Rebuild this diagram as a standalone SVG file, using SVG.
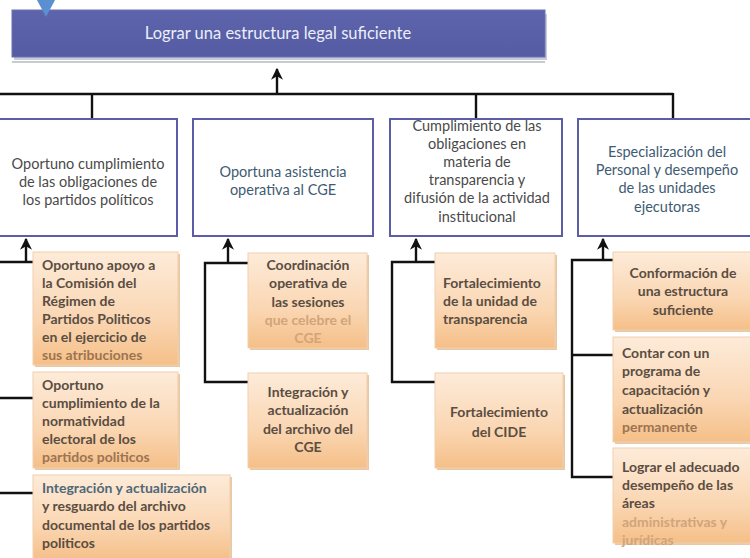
<svg xmlns="http://www.w3.org/2000/svg" width="750" height="558" viewBox="0 0 750 558">
<defs>
<linearGradient id="og" x1="0" y1="0" x2="0" y2="1">
<stop offset="0" stop-color="#fdebd9"/>
<stop offset="0.6" stop-color="#fad6b2"/>
<stop offset="1" stop-color="#f5bf88"/>
</linearGradient>
<linearGradient id="bg" x1="0" y1="0" x2="0" y2="1">
<stop offset="0" stop-color="#5d64ab"/>
<stop offset="1" stop-color="#555ca3"/>
</linearGradient>
<marker id="ah" viewBox="0 0 10 10" refX="9" refY="5" markerWidth="5" markerHeight="5" orient="auto" markerUnits="strokeWidth">
<path d="M0,0 L10,5 L0,10 L3,5 z" fill="#111"/>
</marker>
</defs>
<style>
.con{fill:none;stroke:#111;stroke-width:2.4}
.arr{fill:none;stroke:#111;stroke-width:2.4;marker-end:url(#ah)}
.col{fill:#fff;stroke:#5b5ea6;stroke-width:2}
.ob{fill:url(#og);stroke:#f1cfae;stroke-width:1}
.osh{fill:#e8c9a6}
.t{font-family:Lato,"Open Sans","Liberation Sans",sans-serif;font-size:14.5px}
.g{fill:#4a4a4a}
.b{fill:#3e5b72}
.o{font-family:Lato,"Liberation Sans",sans-serif;font-size:14px;font-weight:bold;fill:#5a4d42}
.lt{fill:#d1a47a}
.md{fill:#9c7452}
.bl{fill:#4f6878}
.c{text-anchor:middle}
</style>
<rect width="750" height="558" fill="#ffffff"/>

<g id="goal">
<rect x="14" y="14" width="533" height="46" fill="#c9ccd6"/>
<rect x="12" y="10" width="533" height="47" fill="url(#bg)" stroke="#6a70b2" stroke-width="1"/>
<line x1="12" y1="62" x2="545" y2="62" stroke="#c8cbd2" stroke-width="2"/>
<polygon points="37,0 55,0 46,17" fill="#5b8fd0"/>
<text x="278" y="39" class="t c" fill="#eceef8" style="font-size:16.5px">Lograr una estructura legal suficiente</text>
</g>

<g id="connectors">
<line class="arr" x1="277" y1="95" x2="277" y2="69"/>
<polyline class="con" points="-2,94 673,94"/>
<line class="con" x1="92" y1="94" x2="92" y2="119"/>
<line class="con" x1="476" y1="94" x2="476" y2="119"/>
<line class="con" x1="673" y1="93" x2="673" y2="119"/>
<line class="arr" x1="26" y1="263" x2="26" y2="239"/>
<polyline class="con" points="0,262 33,262"/>
<polyline class="con" points="0,398 33,398"/>
<polyline class="con" points="0,493 33,493"/>
<line class="arr" x1="228" y1="264" x2="228" y2="239"/>
<polyline class="con" points="248,263 205,263 205,382 248,382"/>
<line class="arr" x1="416" y1="263" x2="416" y2="239"/>
<polyline class="con" points="435,262 392,262 392,382 435,382"/>
<line class="arr" x1="603" y1="261" x2="603" y2="239"/>
<polyline class="con" points="613,260 572,260 572,477 613,477"/>
<line class="con" x1="572" y1="355" x2="613" y2="355"/>
</g>

<g id="col1">
<rect class="col" x="-2" y="119" width="179" height="117"/>
<text class="t g c" x="88" y="169">Oportuno cumplimiento</text>
<text class="t g c" x="88" y="187">de las obligaciones de</text>
<text class="t g c" x="88" y="205">los partidos políticos</text>
</g>
<g id="col2">
<rect class="col" x="193" y="119" width="180" height="117"/>
<text class="t b c" x="283" y="177">Oportuna asistencia</text>
<text class="t b c" x="283" y="195">operativa al CGE</text>
</g>
<g id="col3">
<rect class="col" x="390" y="119" width="172" height="117"/>
<text class="t g c" x="477" y="131">Cumplimiento de las</text>
<text class="t g c" x="477" y="149">obligaciones en</text>
<text class="t g c" x="477" y="167">materia de</text>
<text class="t g c" x="477" y="185">transparencia y</text>
<text class="t g c" x="477" y="203">difusión de la actividad</text>
<text class="t g c" x="477" y="222">institucional</text>
</g>
<g id="col4">
<rect class="col" x="578" y="119" width="175" height="117"/>
<text class="t b c" x="667" y="157">Especialización del</text>
<text class="t b c" x="667" y="175">Personal y desempeño</text>
<text class="t b c" x="667" y="193">de las unidades</text>
<text class="t b c" x="667" y="212">ejecutoras</text>
</g>

<g id="a1">
<rect class="osh" x="35" y="254" width="145" height="113"/>
<rect class="ob" x="33" y="252" width="145" height="113"/>
<text class="o" x="42" y="270">Oportuno apoyo a</text>
<text class="o" x="42" y="288">la Comisión del</text>
<text class="o" x="42" y="306">Régimen de</text>
<text class="o" x="42" y="324">Partidos Politicos</text>
<text class="o" x="42" y="342">en el ejercicio de</text>
<text class="o md" x="42" y="360">sus atribuciones</text>
</g>
<g id="a2">
<rect class="osh" x="35" y="374" width="145" height="96"/>
<rect class="ob" x="33" y="372" width="145" height="96"/>
<text class="o" x="42" y="390">Oportuno</text>
<text class="o" x="42" y="408">cumplimiento de la</text>
<text class="o" x="42" y="426">normatividad</text>
<text class="o" x="42" y="444">electoral de los</text>
<text class="o md" x="42" y="462">partidos politicos</text>
</g>
<g id="a3">
<rect class="osh" x="35" y="477" width="197" height="83"/>
<rect class="ob" x="33" y="475" width="197" height="85"/>
<text class="o bl" x="42" y="493">Integración y actualización</text>
<text class="o" x="42" y="511">y resguardo del archivo</text>
<text class="o" x="42" y="530">documental de los partidos</text>
<text class="o" x="42" y="548">politicos</text>
</g>

<g id="b1">
<rect class="osh" x="250" y="255" width="119" height="95"/>
<rect class="ob" x="248" y="253" width="119" height="95"/>
<text class="o c" x="308" y="270">Coordinación</text>
<text class="o c" x="308" y="288">operativa de</text>
<text class="o c" x="308" y="307">las sesiones</text>
<text class="o c lt" x="308" y="325">que celebre el</text>
<text class="o c lt" x="308" y="343">CGE</text>
</g>
<g id="b2">
<rect class="osh" x="250" y="375" width="119" height="95"/>
<rect class="ob" x="248" y="373" width="119" height="95"/>
<text class="o c" x="308" y="397">Integración y</text>
<text class="o c" x="308" y="415">actualización</text>
<text class="o c" x="308" y="434">del archivo del</text>
<text class="o c" x="308" y="452">CGE</text>
</g>

<g id="c1">
<rect class="osh" x="437" y="255" width="120" height="95"/>
<rect class="ob" x="435" y="253" width="120" height="95"/>
<text class="o" x="443" y="288">Fortalecimiento</text>
<text class="o" x="443" y="306">de la unidad de</text>
<text class="o" x="443" y="324">transparencia</text>
</g>
<g id="c2">
<rect class="osh" x="437" y="375" width="128" height="95"/>
<rect class="ob" x="435" y="373" width="128" height="95"/>
<text class="o c" x="499" y="417">Fortalecimiento</text>
<text class="o c" x="499" y="437">del CIDE</text>
</g>

<g id="d1">
<rect class="osh" x="615" y="254" width="137" height="78"/>
<rect class="ob" x="613" y="252" width="139" height="78"/>
<text class="o c" x="683" y="278">Conformación de</text>
<text class="o c" x="683" y="296">una estructura</text>
<text class="o c" x="683" y="315">suficiente</text>
</g>
<g id="d2">
<rect class="osh" x="615" y="339" width="137" height="105"/>
<rect class="ob" x="613" y="337" width="139" height="105"/>
<text class="o" x="622" y="358">Contar con un</text>
<text class="o" x="622" y="376">programa de</text>
<text class="o" x="622" y="395">capacitación y</text>
<text class="o" x="622" y="414">actualización</text>
<text class="o md" x="622" y="432">permanente</text>
</g>
<g id="d3">
<rect class="osh" x="615" y="450" width="137" height="95"/>
<rect class="ob" x="613" y="448" width="139" height="95"/>
<text class="o" x="622" y="472">Lograr el adecuado</text>
<text class="o" x="622" y="490">desempeño de las</text>
<text class="o" x="622" y="508">áreas</text>
<text class="o lt" x="622" y="527">administrativas y</text>
<text class="o lt" x="622" y="545">jurídicas</text>
</g>
</svg>
